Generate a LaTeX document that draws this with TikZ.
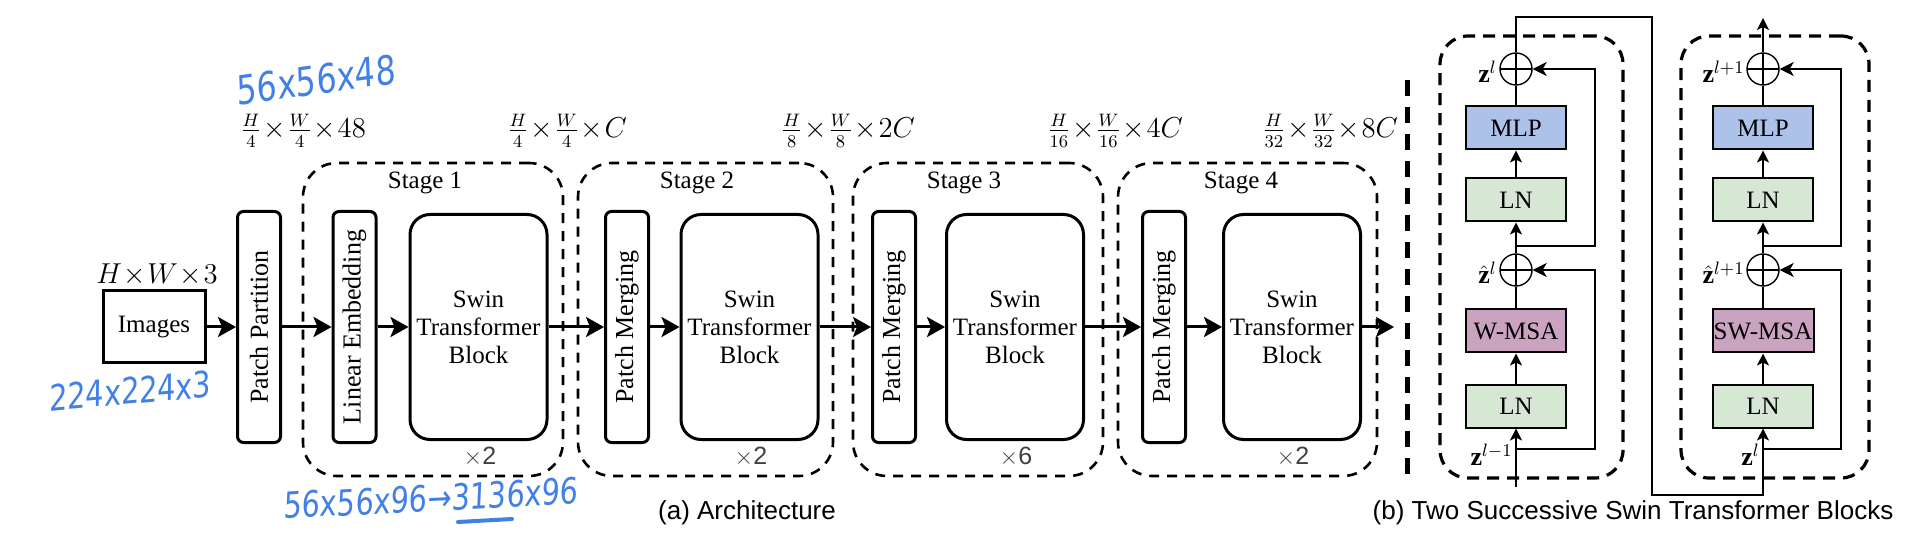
\documentclass[tikz,border=0pt]{standalone}
\usepackage{amsmath,amssymb,bm}
\usepackage{fontspec}
\setmainfont{Liberation Serif}
\setsansfont{Liberation Sans}
\newfontfamily\handfont[FakeStretch=0.8,FakeSlant=0.1]{DejaVu Sans}
\usepackage{xcolor}
\usepackage{tikz}
\usetikzlibrary{arrows.meta}
\definecolor{mlpblue}{RGB}{173,194,232}
\definecolor{lngreen}{RGB}{214,231,212}
\definecolor{msapurple}{RGB}{202,163,192}
\definecolor{handblue}{RGB}{66,128,232}

\begin{document}
\begin{tikzpicture}[x=0.5pt,y=-0.5pt,
	box/.style={draw,line width=1.5pt,inner sep=0pt,font=\fontsize{12.5}{14}\selectfont},
	thinbox/.style={box,rounded corners=3pt,rotate=90,minimum width=115.5pt,minimum height=21.5pt,font=\fontsize{13}{15}\selectfont},
	swin/.style={box,rounded corners=10pt,minimum width=68.5pt,minimum height=112.5pt,align=center},
	stage/.style={draw,line width=1.3pt,dash pattern=on 5pt off 4pt,rounded corners=17pt,minimum height=156.5pt,inner sep=0pt},
	arr/.style={line width=1.5pt,-{Stealth[length=9pt,width=10pt,inset=2pt]}},
	dim/.style={font=\fontsize{12.5}{14}\selectfont},
	frac/.style={font=\fontsize{13.5}{15}\selectfont},
	rep/.style={font=\sffamily\fontsize{12.5}{14}\selectfont,text=black!75},
	layer/.style={draw,line width=1pt,minimum width=50pt,minimum height=21.5pt,inner sep=0pt,font=\fontsize{12.5}{14}\selectfont},
	addop/.style={circle,draw,line width=0.7pt,minimum size=16pt,inner sep=0pt,
		path picture={\draw[line width=0.7pt] (path picture bounding box.north)--(path picture bounding box.south)
			(path picture bounding box.east)--(path picture bounding box.west);}},
	flow/.style={line width=1pt,-{Stealth[length=6pt,width=6pt,inset=1.5pt]}},
	skip/.style={line width=0.7pt,-{Stealth[length=7pt,width=7pt,inset=2pt]}},
	blockbox/.style={draw,line width=1.6pt,dash pattern=on 6pt off 4pt,rounded corners=14pt,inner sep=0pt},
	sep/.style={line width=2.5pt,dash pattern=on 8pt off 5.5pt},
	zlab/.style={font=\fontsize{13}{15}\selectfont,inner sep=1pt},
	hand/.style={text=handblue,font=\handfont\fontsize{20}{22}\selectfont},
	captext/.style={font=\sffamily\fontsize{13}{15}\selectfont}]
	\useasboundingbox (0,0) rectangle (1920,539);
	\node[stage,minimum width=130pt] (st1) at (433,319.5) {};
	\node[stage,minimum width=127.5pt] (st2) at (705.5,319.5) {};
	\node[stage,minimum width=125pt] (st3) at (978,319.5) {};
	\node[stage,minimum width=129.5pt] (st4) at (1247.5,319.5) {};
	\node[dim] (st1lab) at (425,183) {Stage 1};
	\node[dim] (st2lab) at (697,183) {Stage 2};
	\node[dim] (st3lab) at (964,183) {Stage 3};
	\node[dim] (st4lab) at (1241,183) {Stage 4};
	\node[box,minimum width=51pt,minimum height=36pt] (img) at (154,327) {Images};
	\node[frac] (imgdim) at (157,275) {$H\!\times\!W\!\times\!3$};
	\node[thinbox] (pp) at (259,327) {Patch Partition};
	\node[thinbox] (le) at (354.5,327) {Linear Embedding};
	\node[swin] (sw1) at (478.5,327) {Swin\\Transformer\\Block};
	\node[thinbox] (pm2) at (627,327) {Patch Merging};
	\node[swin] (sw2) at (749.5,327) {Swin\\Transformer\\Block};
	\node[thinbox] (pm3) at (894,327) {Patch Merging};
	\node[swin] (sw3) at (1015,327) {Swin\\Transformer\\Block};
	\node[thinbox] (pm4) at (1164,327) {Patch Merging};
	\node[swin] (sw4) at (1292,327) {Swin\\Transformer\\Block};
	\coordinate (out) at (1394,327);
	\draw[arr] (img) -- (pp);
	\draw[arr] (pp) -- (le);
	\draw[arr] (le) -- (sw1);
	\draw[arr] (sw1) -- (pm2);
	\draw[arr] (pm2) -- (sw2);
	\draw[arr] (sw2) -- (pm3);
	\draw[arr] (pm3) -- (sw3);
	\draw[arr] (sw3) -- (pm4);
	\draw[arr] (pm4) -- (sw4);
	\draw[arr] (sw4) -- (out);
	\node[rep] (rep1) at (480,457) {$\times$2};
	\node[rep] (rep2) at (751,457) {$\times$2};
	\node[rep] (rep3) at (1016,457) {$\times$6};
	\node[rep] (rep4) at (1293,457) {$\times$2};
	\node[frac] (dim0) at (303,131) {$\frac{H}{4}\!\times\!\frac{W}{4}\!\times\!48$};
	\node[frac] (dim1) at (567,131) {$\frac{H}{4}\!\times\!\frac{W}{4}\!\times\!C$};
	\node[frac] (dim2) at (848,131) {$\frac{H}{8}\!\times\!\frac{W}{8}\!\times\!2C$};
	\node[frac] (dim3) at (1115,131) {$\frac{H}{16}\!\times\!\frac{W}{16}\!\times\!4C$};
	\node[frac] (dim4) at (1330,131) {$\frac{H}{32}\!\times\!\frac{W}{32}\!\times\!8C$};
	\node[hand,rotate=8] (note0) at (315,80) {56x56x48};
	\node[hand,rotate=5,font=\handfont\fontsize{18}{20}\selectfont] (note1) at (129,391) {224x224x3};
	\node[hand,rotate=3,font=\handfont\fontsize{18}{20}\selectfont] (note2) at (430,498) {56x56x96→3136x96};
	\draw[handblue,line width=2pt,line cap=round] (458,522) -- (512,519);
	\node[captext] (capa) at (747,513) {(a) Architecture};
	\draw[sep] (1407,80) -- (1407,480);
	\node[blockbox,minimum width=91.5pt,minimum height=221pt] (blk1) at (1531.5,257) {};
	\node[blockbox,minimum width=94pt,minimum height=221pt] (blk2) at (1775,257) {};
	\node[addop] (add1b) at (1516,69) {};
	\node[layer,fill=mlpblue] (mlp1) at (1516,128) {MLP};
	\node[layer,fill=lngreen] (lnb1) at (1516,200) {LN};
	\node[addop] (add1a) at (1516,270) {};
	\node[layer,fill=msapurple] (msa1) at (1516,331) {W-MSA};
	\node[layer,fill=lngreen] (lna1) at (1516,406) {LN};
	\coordinate (in1) at (1516,487);
	\coordinate (fork1a) at (1516,449);
	\coordinate (fork1b) at (1516,246);
	\node[addop] (add2b) at (1763,69) {};
	\node[layer,fill=mlpblue] (mlp2) at (1763,128) {MLP};
	\node[layer,fill=lngreen] (lnb2) at (1763,200) {LN};
	\node[addop] (add2a) at (1763,270) {};
	\node[layer,fill=msapurple,minimum width=50.5pt] (msa2) at (1763,331) {SW-MSA};
	\node[layer,fill=lngreen] (lna2) at (1763,406) {LN};
	\coordinate (fork2a) at (1763,449);
	\coordinate (fork2b) at (1763,246);
	\coordinate (out2) at (1763,18);
	\draw[flow] (in1) -- (lna1);
	\draw[flow] (lna1) -- (msa1);
	\draw[line width=1pt] (msa1) -- (add1a);
	\draw[flow] (add1a) -- (lnb1);
	\draw[flow] (lnb1) -- (mlp1);
	\draw[line width=1pt] (mlp1) -- (add1b);
	\draw[skip] (fork1a) -- ++(79,0) |- (add1a);
	\draw[skip] (fork1b) -- ++(79,0) |- (add1b);
	\draw[flow] (add1b) -- ++(0,-52) -| ++(136,478) -| (lna2);
	\draw[flow] (lna2) -- (msa2);
	\draw[line width=1pt] (msa2) -- (add2a);
	\draw[flow] (add2a) -- (lnb2);
	\draw[flow] (lnb2) -- (mlp2);
	\draw[line width=1pt] (mlp2) -- (add2b);
	\draw[flow] (add2b) -- (out2);
	\draw[skip] (fork2a) -- ++(78,0) |- (add2a);
	\draw[skip] (fork2b) -- ++(78,0) |- (add2b);
	\node[zlab,anchor=east] (zl1) at (1499,72) {$\mathbf{z}^{l}$};
	\node[zlab,anchor=east] (zh1) at (1499,273) {$\hat{\mathbf{z}}^{l}$};
	\node[zlab,anchor=east] (zin1) at (1515,455) {$\mathbf{z}^{l-1}$};
	\node[zlab,anchor=east] (zl2) at (1747,72) {$\mathbf{z}^{l+1}$};
	\node[zlab,anchor=east] (zh2) at (1747,273) {$\hat{\mathbf{z}}^{l+1}$};
	\node[zlab,anchor=east] (zin2) at (1762,455) {$\mathbf{z}^{l}$};
	\node[captext] (capb) at (1633,513) {(b) Two Successive Swin Transformer Blocks};
\end{tikzpicture}
\end{document}
